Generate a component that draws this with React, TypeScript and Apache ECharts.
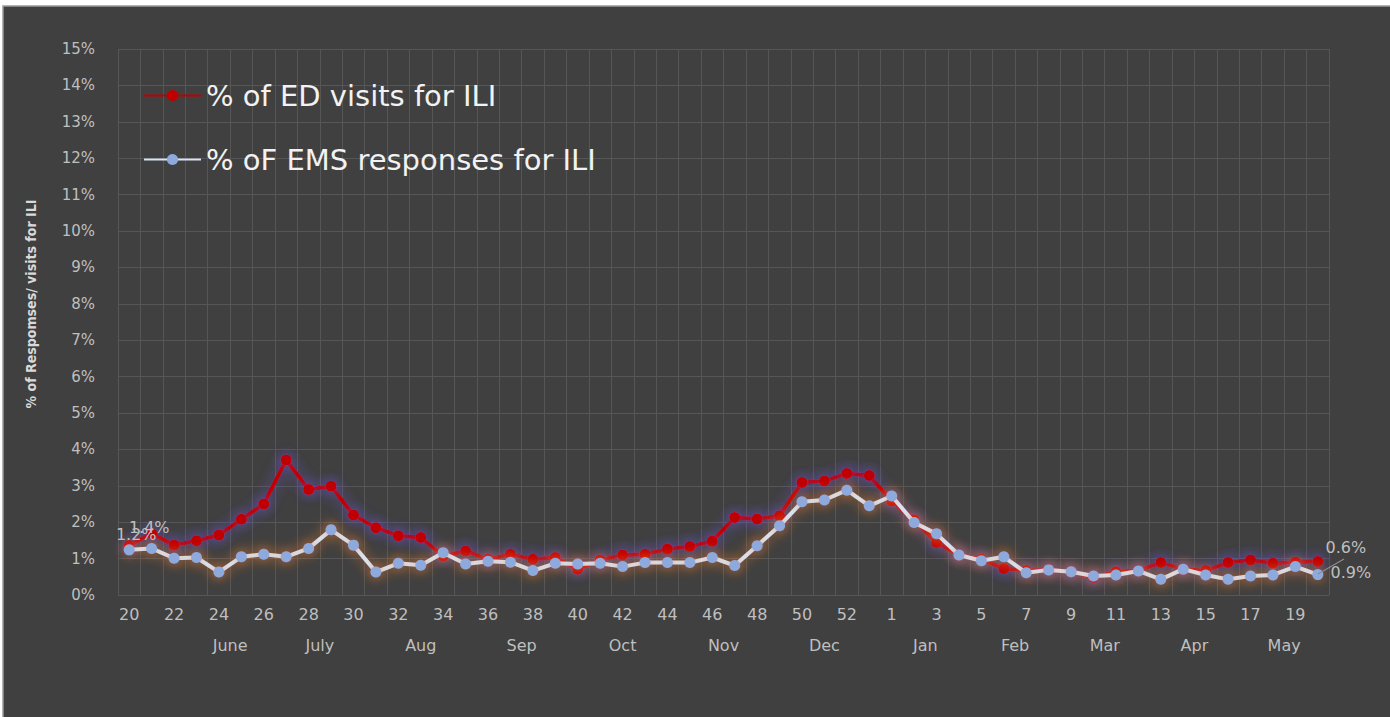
import React, { useEffect, useRef } from "react";
import * as echarts from "echarts";

const weeks: string[] = [
  "20", "21", "22", "23", "24", "25", "26", "27", "28", "29", "30", "31", "32", "33", "34", "35",
  "36", "37", "38", "39", "40", "41", "42", "43", "44", "45", "46", "47", "48", "49", "50", "51",
  "52", "53", "1", "2", "3", "4", "5", "6", "7", "8", "9", "10", "11", "12", "13", "14", "15",
  "16", "17", "18", "19", "20",
];

const edVisits: number[] = [
  1.36, 1.69, 1.37, 1.49, 1.65, 2.08, 2.5, 3.71, 2.9, 2.99, 2.2, 1.85, 1.63, 1.58, 1.07, 1.21,
  0.98, 1.12, 0.98, 1.03, 0.71, 0.96, 1.1, 1.12, 1.26, 1.33, 1.48, 2.13, 2.09, 2.18, 3.09, 3.13,
  3.34, 3.28, 2.58, 2.07, 1.44, 1.1, 0.98, 0.73, 0.67, 0.69, 0.64, 0.48, 0.64, 0.67, 0.89, 0.71,
  0.67, 0.89, 0.96, 0.87, 0.9, 0.92,
];

const emsResponses: number[] = [
  1.24, 1.28, 1.01, 1.03, 0.63, 1.05, 1.12, 1.05, 1.28, 1.79, 1.37, 0.63, 0.87, 0.82, 1.16, 0.85,
  0.93, 0.9, 0.67, 0.87, 0.85, 0.87, 0.78, 0.89, 0.89, 0.89, 1.03, 0.81, 1.35, 1.9, 2.56, 2.61,
  2.88, 2.45, 2.72, 1.99, 1.68, 1.1, 0.94, 1.05, 0.61, 0.69, 0.64, 0.52, 0.55, 0.66, 0.43, 0.71,
  0.55, 0.43, 0.52, 0.55, 0.78, 0.56,
];

const months: string[] = ["June", "July", "Aug", "Sep", "Oct", "Nov", "Dec", "Jan", "Feb", "Mar", "Apr", "May"];
const monthPos: number[] = [4.5, 8.5, 13, 17.5, 22, 26.5, 31, 35.5, 39.5, 43.5, 47.5, 51.5];

const yTicks = { min: 0, max: 15, interval: 1 };

const AXIS_FONT = "'DejaVu Sans', 'Open Sans', sans-serif";
const LABEL_COLOR = "#bfbfbf";

export default function App() {
  const ref = useRef<HTMLDivElement>(null);

  useEffect(() => {
    if (!ref.current) return;
    const chart = echarts.init(ref.current, undefined, { renderer: "svg" });
    const last = weeks.length - 1;
    const fmt = (p: any) => Number(p.value).toFixed(1) + "%";

    const edData = edVisits.map((v, i) => {
      if (i === 0) return { value: v, label: { show: true, position: "inside", offset: [20, -18] } };
      if (i === last) return { value: v, label: { show: true, position: "inside", offset: [33, 11] } };
      return v;
    });
    const emsData = emsResponses.map((v, i) => {
      if (i === 0) return { value: v, label: { show: true, position: "inside", offset: [7, -15] } };
      if (i === last) return { value: v, label: { show: true, position: "inside", offset: [28, -27] } };
      return v;
    });

    const labelStyle = {
      show: false,
      formatter: fmt,
      color: LABEL_COLOR,
      fontFamily: AXIS_FONT,
      fontSize: 16,
    };

    chart.setOption({
      animation: false,
      backgroundColor: "#ffffff",
      graphic: [
        {
          type: "rect",
          z: -10,
          silent: true,
          shape: { x: 3, y: 6, width: 1390, height: 715 },
          style: { fill: "#404040", stroke: "#9a9a9a", lineWidth: 1.5 },
        },
        {
          type: "line",
          z: 10,
          silent: true,
          shape: { x1: 1318, y1: 574, x2: 1344, y2: 559 },
          style: { stroke: "#8c8c8c", lineWidth: 1.2 },
        },
      ],
      grid: { left: 118, right: 61, top: 49, bottom: 122, containLabel: false },
      legend: {
        orient: "vertical",
        left: 143,
        top: 81,
        padding: 0,
        itemGap: 35,
        itemWidth: 57,
        itemHeight: 14,
        textStyle: { color: "#f2f2f2", fontSize: 29, fontFamily: AXIS_FONT },
        data: ["% of ED visits for ILI", "% oF EMS responses for ILI"],
      },
      xAxis: [
        {
          type: "category",
          data: weeks,
          boundaryGap: true,
          axisLine: { show: false },
          axisTick: { show: false },
          axisLabel: {
            interval: 1,
            margin: 11,
            color: LABEL_COLOR,
            fontSize: 16,
            fontFamily: AXIS_FONT,
          },
          splitLine: { show: true, interval: 0, lineStyle: { color: "#565656", width: 1 } },
        },
        {
          type: "value",
          min: -0.5,
          max: weeks.length - 0.5,
          position: "bottom",
          axisLine: { show: false },
          axisTick: { show: false },
          splitLine: { show: false },
          axisLabel: {
            customValues: monthPos,
            margin: 42,
            color: LABEL_COLOR,
            fontSize: 16,
            fontFamily: AXIS_FONT,
            formatter: (v: number) => {
              const k = monthPos.findIndex((p) => Math.abs(p - v) < 0.01);
              return k >= 0 ? months[k] : "";
            },
          },
        },
      ],
      yAxis: {
        type: "value",
        min: yTicks.min,
        max: yTicks.max,
        interval: yTicks.interval,
        name: "% of Respomses/ visits for ILI",
        nameLocation: "middle",
        nameGap: 80,
        nameTextStyle: {
          color: "#d9d9d9",
          fontSize: 14,
          fontWeight: "bold",
          fontFamily: "'Liberation Sans Narrow', 'DejaVu Sans Condensed', sans-serif",
          padding: [0, 0, 0, 36],
        },
        axisLine: { show: false },
        axisTick: { show: false },
        axisLabel: {
          formatter: "{value}%",
          margin: 23,
          color: LABEL_COLOR,
          fontSize: 15,
          fontFamily: AXIS_FONT,
        },
        splitLine: { show: true, lineStyle: { color: "#565656", width: 1 } },
      },
      series: [
        {
          name: "% of ED visits for ILI",
          type: "line",
          xAxisIndex: 0,
          data: edData,
          symbol: "circle",
          symbolSize: 11,
          showAllSymbol: true,
          label: labelStyle,
          lineStyle: {
            color: "#c00000",
            width: 4,
            shadowColor: "rgba(105,85,215,0.8)",
            shadowBlur: 14,
          },
          itemStyle: {
            color: "#c00000",
            shadowColor: "rgba(105,85,215,0.8)",
            shadowBlur: 12,
          },
          z: 2,
        },
        {
          name: "% oF EMS responses for ILI",
          type: "line",
          xAxisIndex: 0,
          data: emsData,
          symbol: "circle",
          symbolSize: 11,
          showAllSymbol: true,
          label: labelStyle,
          lineStyle: {
            color: "#dae3f3",
            width: 4,
            shadowColor: "rgba(237,125,49,0.75)",
            shadowBlur: 14,
          },
          itemStyle: {
            color: "#8eaadc",
            shadowColor: "rgba(237,125,49,0.75)",
            shadowBlur: 12,
          },
          z: 3,
        },
      ],
    });

    return () => chart.dispose();
  }, []);

  return (
    <div
      ref={ref}
      style={{ position: "fixed", left: 0, top: 0, width: 1390, height: 717 }}
    />
  );
}
